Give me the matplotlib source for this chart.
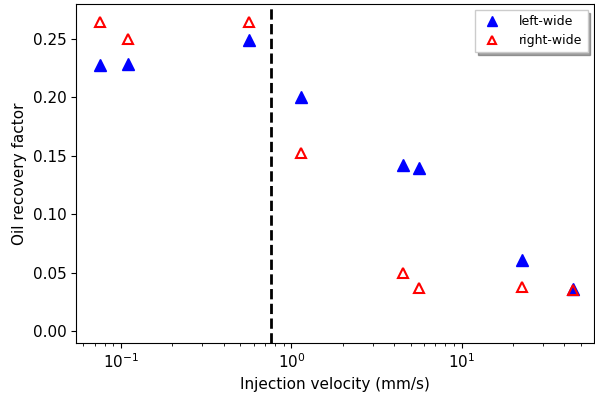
import matplotlib
matplotlib.use("Agg")
import matplotlib.pyplot as plt

velocity = [0.075, 0.11, 0.56, 1.13, 4.5, 5.6, 22.5, 45]
left_wide = [0.228, 0.229, 0.249, 0.200, 0.142, 0.140, 0.061, 0.036]
right_wide = [0.265, 0.250, 0.265, 0.152, 0.050, 0.037, 0.038, 0.035]
threshold = 0.76

fig, ax = plt.subplots(figsize=(5.95, 3.98), dpi=100)
ax.plot(velocity, left_wide, linestyle="none", marker="^", markersize=8,
        color="blue", label="left-wide")
ax.plot(velocity, right_wide, linestyle="none", marker="^", markersize=7.5,
        markerfacecolor="none", markeredgecolor="red", markeredgewidth=1.5,
        label="right-wide")
ax.axvline(threshold, color="black", linestyle="--", linewidth=2)
ax.set_xscale("log")
ax.set_xlim(0.0545, 59.5)
ax.set_ylim(-0.0103, 0.28)
ax.set_xlabel("Injection velocity (mm/s)", fontsize=11)
ax.set_ylabel("Oil recovery factor", fontsize=11)
ax.tick_params(labelsize=11)
ax.legend(loc="upper right", fancybox=False, shadow=True, fontsize=9,
          markerscale=0.85, handlelength=1.8, handletextpad=1.3)
fig.subplots_adjust(left=0.128, right=0.998, top=0.99, bottom=0.138)
fig.savefig("out.png")
